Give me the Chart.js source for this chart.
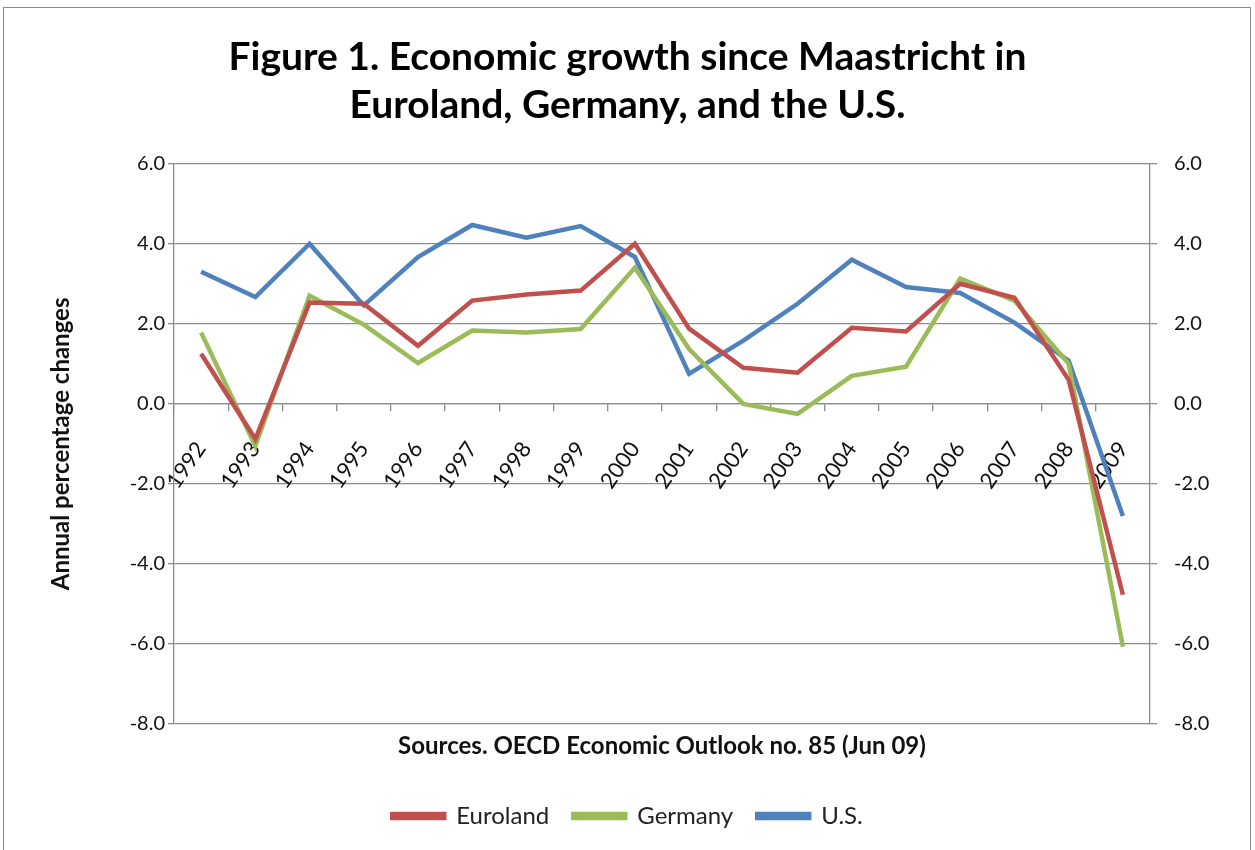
<!DOCTYPE html>
<html lang="en">
<head>
    <meta charset="UTF-8">
    <title>Economic growth since Maastricht</title>
    <script src="https://cdn.jsdelivr.net/npm/chart.js"></script>
    <style>
        body { margin: 0; background: #fff; }
        #wrap { position: relative; width: 1255px; height: 850px; }
        #frame { position: absolute; left: 3px; top: 7px; width: 1246px; height: 850px;
                 border: 1px solid #8a8a8a; pointer-events: none; }
    </style>
</head>
<body>
<div id="wrap">
    <canvas id="myChart"></canvas>
    <div id="frame"></div>
</div>

<script>
    // annual growth
    const years = ['1992', '1993', '1994', '1995', '1996', '1997', '1998', '1999', '2000',
        '2001', '2002', '2003', '2004', '2005', '2006', '2007', '2008', '2009'];
    const euroland = [1.25, -0.88, 2.53, 2.5, 1.45, 2.58, 2.73, 2.83, 4.0,
        1.88, 0.9, 0.78, 1.9, 1.81, 3.0, 2.65, 0.6, -4.77];
    const germany = [1.78, -1.05, 2.7, 1.98, 1.02, 1.83, 1.78, 1.87, 3.4,
        1.37, 0.0, -0.25, 0.7, 0.93, 3.13, 2.58, 1.0, -6.07];
    const us = [3.3, 2.67, 4.0, 2.46, 3.67, 4.47, 4.15, 4.44, 3.67,
        0.75, 1.58, 2.5, 3.6, 2.92, 2.77, 2.03, 1.08, -2.8];

    const FONT = 'Lato';
    const gridColor = '#8c8c8c';

    const ctx = document.getElementById('myChart').getContext('2d');
    const myChart = new Chart(ctx, {
        type: 'line',
        data: {
            labels: years,
            datasets: [
                {label: 'Euroland', data: euroland, borderColor: '#C0504D', backgroundColor: '#C0504D'},
                {label: 'Germany', data: germany, borderColor: '#9BBB59', backgroundColor: '#9BBB59'},
                {label: 'U.S.', data: us, borderColor: '#4F81BD', backgroundColor: '#4F81BD'}
            ]
        },
        options: {
            responsive: true,
            maintainAspectRatio: false,
            animation: false,
            layout: {padding: {left: 0, right: 0, top: 0, bottom: 12}},
            elements: {
                line: {borderWidth: 4.5, tension: 0},
                point: {radius: 0}
            },
            plugins: {
                title: {
                    display: true,
                    text: ['Figure 1. Economic growth since Maastricht in', 'Euroland, Germany, and the U.S.'],
                    color: '#000',
                    font: {family: FONT, size: 39, weight: 'bold', lineHeight: 1.24},
                    padding: {top: 33, bottom: 34}
                },
                legend: {
                    position: 'bottom',
                    labels: {
                        color: '#222',
                        font: {family: FONT, size: 24},
                        boxWidth: 52,
                        boxHeight: 4,
                        padding: 24
                    }
                },
                tooltip: {enabled: false}
            },
            scales: {
                x: {
                    type: 'category',
                    position: {y: 0},
                    offset: true,
                    grid: {drawOnChartArea: false, offset: true, tickLength: 7, color: gridColor, lineWidth: 1.3},
                    border: {display: true, color: gridColor, width: 1.3},
                    ticks: {
                        autoSkip: false, minRotation: 55, maxRotation: 55,
                        color: '#111', font: {family: FONT, size: 22}, padding: 26
                    }
                },
                xb: {
                    type: 'category',
                    position: 'bottom',
                    grid: {display: false},
                    border: {display: false},
                    ticks: {display: false},
                    title: {
                        display: true,
                        text: 'Sources. OECD Economic Outlook no. 85 (Jun 09)',
                        color: '#111',
                        font: {family: FONT, size: 24, weight: 'bold'},
                        padding: {top: 19, bottom: 19}
                    },
                    afterFit: function (scale) {
                        scale.height = 56;
                    }
                },
                y: {
                    position: 'left',
                    min: -8, max: 6,
                    ticks: {
                        stepSize: 2, color: '#111', padding: 3,
                        font: {family: FONT, size: 20},
                        callback: v => v.toFixed(1)
                    },
                    grid: {color: gridColor, lineWidth: 1.3, tickLength: 6},
                    border: {display: true, color: gridColor, width: 1.3},
                    title: {
                        display: true,
                        text: 'Annual percentage changes',
                        color: '#111',
                        font: {family: FONT, size: 24, weight: 'bold'},
                        padding: {top: 47, bottom: 47}
                    },
                    afterFit: function (scale) {
                        scale.width = 174;
                    }
                },
                y2: {
                    position: 'right',
                    min: -8, max: 6,
                    ticks: {
                        stepSize: 2, color: '#111', padding: 17,
                        font: {family: FONT, size: 20},
                        callback: v => v.toFixed(1)
                    },
                    grid: {drawOnChartArea: false, color: gridColor, lineWidth: 1.3, tickLength: 7},
                    border: {display: true, color: gridColor, width: 1.3},
                    afterFit: function (scale) {
                        scale.width = 105;
                    }
                }
            }
        }
    });
</script>
</body>
</html>
